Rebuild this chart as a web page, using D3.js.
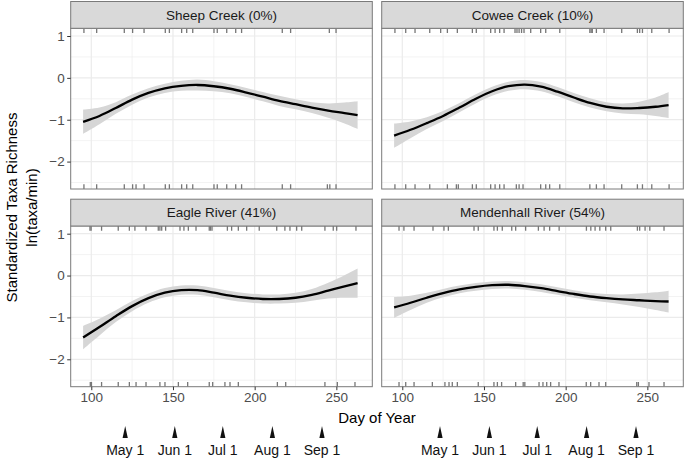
<!DOCTYPE html>
<html><head><meta charset="utf-8">
<script src="https://cdn.jsdelivr.net/npm/d3@7"></script>
<style>body{margin:0;background:#fff}svg{display:block;font-family:"Liberation Sans",Arial,Helvetica,sans-serif}</style>
</head><body><svg id="c" width="685" height="460"></svg>
<script>
// ---------------- data ----------------
const sites = ["Sheep Creek (0%)", "Cowee Creek (10%)", "Eagle River (41%)", "Mendenhall River (54%)"];
const fitDays = [95, 105, 115, 125, 135, 145, 155, 165, 175, 185, 195, 205, 215, 225, 235, 245, 255, 263];

const sheepFit = [-1.05, -0.91, -0.72, -0.52, -0.36, -0.25, -0.19, -0.17, -0.20, -0.26, -0.35, -0.45, -0.55, -0.63, -0.71, -0.78, -0.84, -0.89];
const sheepSE  = [0.29, 0.20, 0.14, 0.12, 0.11, 0.11, 0.12, 0.13, 0.12, 0.11, 0.11, 0.11, 0.12, 0.12, 0.13, 0.17, 0.25, 0.33];
const coweeFit = [-1.38, -1.24, -1.08, -0.91, -0.71, -0.50, -0.32, -0.20, -0.16, -0.21, -0.33, -0.47, -0.60, -0.69, -0.73, -0.72, -0.69, -0.65];
const coweeSE  = [0.29, 0.20, 0.14, 0.12, 0.11, 0.11, 0.11, 0.11, 0.11, 0.11, 0.11, 0.11, 0.11, 0.11, 0.12, 0.15, 0.22, 0.31];
const eagleFit = [-1.48, -1.23, -0.97, -0.73, -0.54, -0.41, -0.35, -0.35, -0.41, -0.48, -0.53, -0.56, -0.56, -0.53, -0.46, -0.36, -0.26, -0.18];
const eagleSE  = [0.28, 0.20, 0.14, 0.12, 0.11, 0.11, 0.11, 0.11, 0.11, 0.11, 0.11, 0.11, 0.11, 0.12, 0.14, 0.19, 0.27, 0.35];
const mendFit  = [-0.76, -0.65, -0.53, -0.42, -0.33, -0.27, -0.23, -0.22, -0.25, -0.30, -0.37, -0.44, -0.50, -0.54, -0.57, -0.59, -0.61, -0.62];
const mendSE   = [0.25, 0.17, 0.12, 0.10, 0.09, 0.09, 0.09, 0.09, 0.09, 0.09, 0.09, 0.09, 0.09, 0.10, 0.12, 0.16, 0.21, 0.26];

const sheepRugTop = [95.5, 103.3, 120.2, 125.3, 132.3, 145.3, 147.8, 155.3, 158.4, 162.1, 175.1, 177.1, 182.9, 188.4, 192, 216.9, 222, 245.7, 249.8];
const sheepRugBot = [95.5, 103.3, 120.2, 125.3, 127.4, 132.3, 145.3, 147.8, 155.3, 158.4, 162.1, 175.1, 177.1, 182.9, 188.4, 192, 216.9, 222, 244.5, 246, 249.8];
const coweeRugTop = [95.5, 102.1, 107.8, 116.8, 123.5, 127.6, 133.7, 142.9, 145.3, 154.1, 156.8, 159.6, 162.3, 169, 170.2, 171.5, 173, 174.5, 178.6, 184.7, 187.8, 196.4, 214.8, 215.6, 216.3, 218.8, 223.5, 234.3, 243.9, 245.3, 247, 252.7, 263.3];
const coweeRugBot = [95.5, 102.1, 107.8, 116.8, 127.6, 133.1, 134.3, 142.9, 145.3, 154.1, 156.8, 159.6, 162.3, 169.8, 171.5, 173.9, 184.7, 187.8, 190.2, 196.4, 214.8, 218.8, 223.5, 234.3, 243.9, 247, 252.7, 263.3];
const eagleRugTop = [99.2, 99.9, 106.3, 116.5, 123.3, 126.7, 133.5, 141, 142, 143.1, 145.5, 154.3, 156.7, 159.4, 164.1, 172.2, 173, 173.9, 183.3, 185.9, 190, 195.1, 202.8, 213.5, 218.5, 221.6, 225.7, 228.8, 243, 248.1, 250.2, 262];
const eagleRugBot = [99.4, 100.1, 106.3, 116.5, 123.3, 127.4, 133.5, 142, 145.1, 153.3, 159, 172.2, 174.3, 181.8, 184.9, 190, 213.9, 219, 243, 250.6, 261.4];
const mendRugTop  = [98, 101, 107.2, 118.8, 125.5, 128.2, 143.9, 146.5, 156.1, 158.2, 161.2, 167, 169.4, 175.5, 183.3, 186.8, 190.2, 196, 212.7, 215.4, 218, 220.9, 224.5, 227.6, 243.9, 245.3, 248.6, 251.5, 260.2];
const mendRugBot  = [98, 102.1, 107.2, 118.4, 126.1, 128.6, 130.6, 133.7, 146.5, 156.1, 158.2, 160.8, 169.4, 174, 175, 183.7, 186.1, 188.4, 190.8, 195.9, 212.6, 215.3, 220.4, 224.5, 243.5, 244.5, 251, 260.2];

const xTicks = [100, 150, 200, 250];
const xMinor = [125, 175, 225];
const yTicks = [1, 0, -1, -2];
const yMinor = [0.5, -0.5, -1.5, -2.5];
const dateLabels = ["May 1", "Jun 1", "Jul 1", "Aug 1", "Sep 1"];
const dateDays = [121, 152, 182, 213, 244];

const panelData = [
  {name: sites[0], fit: sheepFit, se: sheepSE, rugTop: sheepRugTop, rugBot: sheepRugBot},
  {name: sites[1], fit: coweeFit, se: coweeSE, rugTop: coweeRugTop, rugBot: coweeRugBot},
  {name: sites[2], fit: eagleFit, se: eagleSE, rugTop: eagleRugTop, rugBot: eagleRugBot},
  {name: sites[3], fit: mendFit, se: mendSE, rugTop: mendRugTop, rugBot: mendRugBot}
];

// ---------------- layout ----------------
const svg = d3.select("#c");
const colX = [[70.7, 372.3], [381.7, 683.3]];
const rowY = [[28.3, 189], [226, 386.7]];
const stripH = 26.8;
const xDomain = [87.4, 272];
const yDomain = [-2.655, 1.184];
const border = "#7a7a7a";
const gridCol = "#ebebeb";
const minus = s => String(s).replace("-", "\u2212");

panelData.forEach((p, i) => {
  const c = i % 2, r = Math.floor(i / 2);
  const [x0, x1] = colX[c], [y0, y1] = rowY[r];
  const x = d3.scaleLinear().domain(xDomain).range([x0, x1]);
  const y = d3.scaleLinear().domain(yDomain).range([y1, y0]);
  const g = svg.append("g");
  const clipId = "clip" + i;
  svg.append("clipPath").attr("id", clipId).append("rect")
    .attr("x", x0).attr("y", y0).attr("width", x1 - x0).attr("height", y1 - y0);

  // grid
  g.selectAll(".gmx").data(xMinor).join("line")
    .attr("x1", d => x(d)).attr("x2", d => x(d)).attr("y1", y0).attr("y2", y1)
    .attr("stroke", gridCol).attr("stroke-width", 0.6);
  g.selectAll(".gmy").data(yMinor).join("line")
    .attr("y1", d => y(d)).attr("y2", d => y(d)).attr("x1", x0).attr("x2", x1)
    .attr("stroke", gridCol).attr("stroke-width", 0.6);
  g.selectAll(".gx").data(xTicks).join("line")
    .attr("x1", d => x(d)).attr("x2", d => x(d)).attr("y1", y0).attr("y2", y1)
    .attr("stroke", gridCol).attr("stroke-width", 1.2);
  g.selectAll(".gy").data(yTicks).join("line")
    .attr("y1", d => y(d)).attr("y2", d => y(d)).attr("x1", x0).attr("x2", x1)
    .attr("stroke", gridCol).attr("stroke-width", 1.2);

  const pts = fitDays.map((d, k) => ({d, f: p.fit[k], s: p.se[k]}));
  const gc = g.append("g").attr("clip-path", `url(#${clipId})`);
  gc.append("path").datum(pts)
    .attr("d", d3.area().curve(d3.curveCatmullRom.alpha(0.5))
      .x(v => x(v.d)).y0(v => y(v.f - v.s)).y1(v => y(v.f + v.s)))
    .attr("fill", "#d6d6d6");
  gc.append("path").datum(pts)
    .attr("d", d3.line().curve(d3.curveCatmullRom.alpha(0.5)).x(v => x(v.d)).y(v => y(v.f)))
    .attr("fill", "none").attr("stroke", "#000").attr("stroke-width", 2.3);

  // rugs
  const rugLen = (y1 - y0) * 0.03;
  gc.selectAll(".rt").data(p.rugTop).join("line")
    .attr("x1", d => x(d)).attr("x2", d => x(d)).attr("y1", y0).attr("y2", y0 + rugLen)
    .attr("stroke", "#767676").attr("stroke-width", 1.3);
  gc.selectAll(".rb").data(p.rugBot).join("line")
    .attr("x1", d => x(d)).attr("x2", d => x(d)).attr("y1", y1).attr("y2", y1 - rugLen)
    .attr("stroke", "#767676").attr("stroke-width", 1.3);

  // border
  g.append("rect").attr("x", x0).attr("y", y0).attr("width", x1 - x0).attr("height", y1 - y0)
    .attr("fill", "none").attr("stroke", border).attr("stroke-width", 1);

  // strip
  g.append("rect").attr("x", x0).attr("y", y0 - stripH).attr("width", x1 - x0).attr("height", stripH)
    .attr("fill", "#d9d9d9").attr("stroke", border).attr("stroke-width", 1);
  g.append("text").attr("x", (x0 + x1) / 2).attr("y", y0 - stripH / 2 + 4.8)
    .attr("text-anchor", "middle").attr("font-size", 13.5).attr("fill", "#1a1a1a").text(p.name);

  // y axis on left column
  if (c === 0) {
    const ya = d3.axisLeft(y).tickValues(yTicks).tickSize(3.5).tickPadding(2.5).tickFormat(minus);
    const ag = g.append("g").attr("transform", `translate(${x0},0)`).call(ya);
    ag.select(".domain").remove();
    ag.selectAll("line").attr("stroke", "#333");
    ag.selectAll("text").attr("font-size", 13.5).attr("fill", "#4d4d4d")
      .attr("font-family", '"Liberation Sans",Arial,sans-serif');
  }
  // x axis on bottom row
  if (r === 1) {
    const xa = d3.axisBottom(x).tickValues(xTicks).tickSize(3.5).tickPadding(2.5);
    const ag = g.append("g").attr("transform", `translate(0,${y1})`).call(xa);
    ag.select(".domain").remove();
    ag.selectAll("line").attr("stroke", "#333");
    ag.selectAll("text").attr("font-size", 13.5).attr("fill", "#4d4d4d")
      .attr("font-family", '"Liberation Sans",Arial,sans-serif');

    // date annotations
    const dx = d3.scaleLinear().domain([121, 244]).range(c === 0 ? [125.2, 322] : [440, 636]);
    const ann = g.append("g");
    ann.selectAll("path").data(dateDays).join("path")
      .attr("d", d => `M${dx(d) - 2.6},438 L${dx(d)},426 L${dx(d) + 2.6},438 Z`)
      .attr("fill", "#111");
    ann.selectAll("text").data(dateDays).join("text")
      .attr("x", d => dx(d)).attr("y", 455).attr("text-anchor", "middle")
      .attr("font-size", 14).attr("fill", "#111")
      .text((d, k) => dateLabels[k]);
  }
});

// axis titles
svg.append("text").attr("x", (colX[0][0] + colX[1][1]) / 2).attr("y", 423)
  .attr("text-anchor", "middle").attr("font-size", 15).attr("fill", "#000").text("Day of Year");
const yt = svg.append("text").attr("transform", `translate(0,${(rowY[0][0] + rowY[1][1]) / 2}) rotate(-90)`)
  .attr("text-anchor", "middle").attr("font-size", 15).attr("fill", "#000");
yt.append("tspan").attr("x", 0).attr("y", 17).text("Standardized Taxa Richness");
yt.append("tspan").attr("x", 0).attr("y", 37).text("ln(taxa/min)");
</script></body></html>
